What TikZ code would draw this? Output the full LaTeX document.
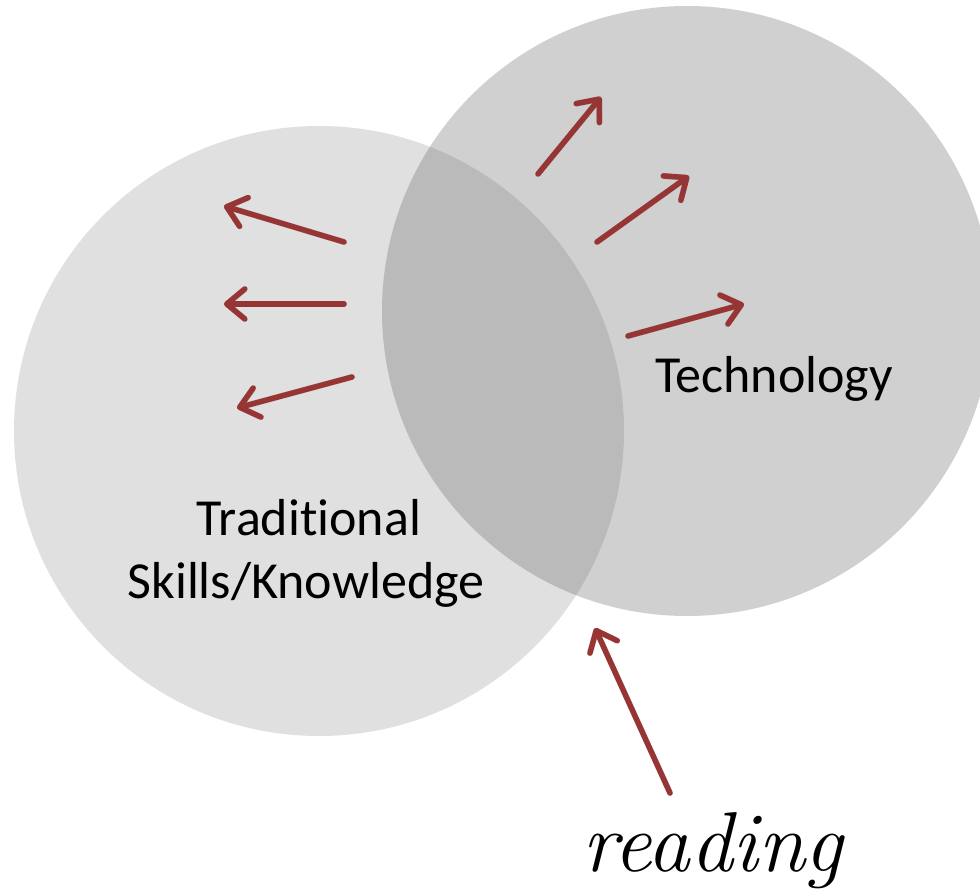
\documentclass[tikz,border=0pt]{standalone}
\usepackage{fontspec}
\newfontfamily\calib[Ligatures={NoCommon}]{Carlito}
\usetikzlibrary{arrows.meta}
\definecolor{arrowred}{HTML}{973535}
\definecolor{leftgray}{HTML}{E0E0E0}
\definecolor{rightgray}{HTML}{606060}
\begin{document}
\begin{tikzpicture}[x=1pt,y=-1pt,
  redarrow/.style={draw=arrowred, line width=5.5pt, line cap=round, line join=round,
    -{Straight Barb[length=18pt,width=30pt,line cap=round,line join=round]}},
  shadowarrow/.style={draw=black, opacity=0.12, line width=6pt, line cap=round, line join=round,
    -{Straight Barb[length=18pt,width=30pt,line cap=round,line join=round]}, shift={(2,3)}},
  lbl/.style={font=\calib\fontsize{52}{63}\selectfont, anchor=base, inner sep=0pt}
]
\useasboundingbox (0,0) rectangle (980,890);
\fill[white] (0,0) rectangle (980,890);
% circles
\node[circle, fill=leftgray, minimum size=610pt, inner sep=0pt] (L) at (319,431) {};
\node[circle, fill=rightgray, fill opacity=0.29, minimum size=610pt, inner sep=0pt] (R) at (687,311) {};
% coordinates
\coordinate (a1s) at (344,242); \coordinate (a1e) at (224,206);
\coordinate (a2s) at (344,304); \coordinate (a2e) at (224,304);
\coordinate (a3s) at (352,377); \coordinate (a3e) at (237,408);
\coordinate (b1s) at (538,174); \coordinate (b1e) at (601,97);
\coordinate (b2s) at (597,242); \coordinate (b2e) at (689,176);
\coordinate (b3s) at (628,336); \coordinate (b3e) at (744,304);
\coordinate (rs) at (670,793); \coordinate (re) at (595,628);
% shadows
\foreach \s/\e in {a1s/a1e,a2s/a2e,a3s/a3e,b1s/b1e,b2s/b2e,b3s/b3e,rs/re}
  \draw[shadowarrow] (\s) -- (\e);
% arrows
\foreach \s/\e in {a1s/a1e,a2s/a2e,a3s/a3e,b1s/b1e,b2s/b2e,b3s/b3e,rs/re}
  \draw[redarrow] (\s) -- (\e);
% labels
\node[lbl] (trad1) at (309,535) {Traditional};
\node[lbl] (trad2) at (306,598) {Skills/Knowledge};
\node[lbl] (tech) at (774,393) {Technology};
\node[font=\fontsize{85}{100}\selectfont\itshape, anchor=base, inner sep=0pt] (reading) at (713,871) {reading};
\end{tikzpicture}
\end{document}
